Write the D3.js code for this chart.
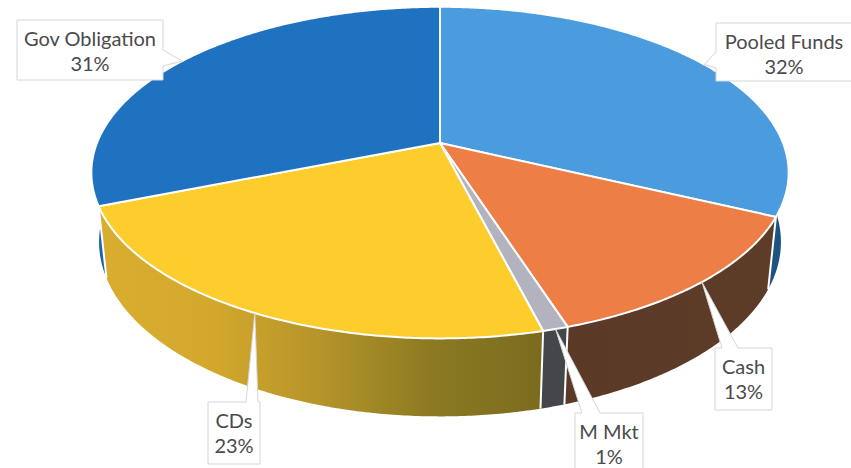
<!DOCTYPE html>
<html>
<head>
<meta charset="utf-8">
<script src="https://cdn.jsdelivr.net/npm/d3@7"></script>
<style>
  body { margin: 0; background: #fff; }
  svg { display: block; }
</style>
</head>
<body>
<svg id="chart" width="851" height="468"></svg>
<script>
// Portfolio allocation, clockwise from 12 o'clock
const categories = ["Pooled Funds", "Cash", "M Mkt", "CDs", "Gov Obligation"];
const shares = [32, 13, 1, 23, 31];
const shareLabels = ["32%", "13%", "1%", "23%", "31%"];

// Fill colours: top faces and shaded outer walls (stops run from slice start to slice end)
const topColors = ["#4b9cdf", "#ed7e46", "#b3b3bf", "#fccd2c", "#1f72c0"];
const sideStops = [
  ["#1d5d8c", "#1b5482"],
  ["#5d3c28", "#5a3a27"],
  ["#44464c", "#44464c"],
  ["#7b6b1f", "#8b7a22", "#b59429", "#d4a82d", "#d9ad2f"],
  ["#1b66ae", "#1b66ae"]
];

// Callout boxes: box rectangle, side the pointer leaves from, and the pointer base span
const callouts = [
  { x: 716, y: 23,  w: 136, h: 58, side: "left",  b0: 52,  b1: 68 },
  { x: 715, y: 348, w: 57,  h: 62, side: "top",   b0: 722, b1: 738 },
  { x: 575, y: 413, w: 68,  h: 60, side: "top",   b0: 582, b1: 600 },
  { x: 208, y: 402, w: 52,  h: 62, side: "top",   b0: 246, b1: 258 },
  { x: 17,  y: 20,  w: 146, h: 60, side: "right", b0: 50,  b1: 66 }
];

const svg = d3.select("#chart");
const defs = svg.append("defs");

// Perspective view of a tilted disc of unit radius
const cx = 440, cy = 143;
const tilt = 27.9 * Math.PI / 180;
const camDist = 4.95, focal = 1698, thickness = 0.231;

function project(theta, r, yw) {
  const X = r * Math.sin(theta), Z = r * Math.cos(theta);
  const v = Z * Math.sin(tilt) + yw * Math.cos(tilt);
  const d = Z * Math.cos(tilt) - yw * Math.sin(tilt);
  const s = focal / (camDist + d);
  return [cx + X * s, cy - v * s];
}

const pie = d3.pie().sort(null).value(d => d.value);
const arcs = pie(categories.map((c, i) => ({ name: c, value: shares[i], i })));
const line = d3.line();

function rimPoints(a, yw) {
  const n = Math.max(4, Math.ceil((a.endAngle - a.startAngle) / (Math.PI / 360)));
  return d3.range(n + 1).map(k => project(a.startAngle + (a.endAngle - a.startAngle) * k / n, 1, yw));
}

// Outer walls, one shape per slice, shaded with a horizontal gradient; far walls first
const walls = arcs.map(a => {
  const top = rimPoints(a, 0), bottom = rimPoints(a, -thickness).reverse();
  const id = "wall" + a.data.i;
  const stops = sideStops[a.data.i];
  const xs = project(a.startAngle, 1, 0)[0], xe = project(a.endAngle, 1, 0)[0];
  const g = defs.append("linearGradient").attr("id", id)
    .attr("gradientUnits", "userSpaceOnUse")
    .attr("x1", xs).attr("y1", 0).attr("x2", xe).attr("y2", 0);
  stops.forEach((c, k) => g.append("stop").attr("offset", k / (stops.length - 1)).attr("stop-color", c));
  return { d: line(top.concat(bottom)) + "Z", fill: `url(#${id})`,
           depth: Math.cos((a.startAngle + a.endAngle) / 2) };
}).sort((p, q) => q.depth - p.depth);

svg.append("g").selectAll("path").data(walls).join("path")
  .attr("d", w => w.d)
  .attr("fill", w => w.fill);

// White seams on the wall where slices meet (front-facing only)
const seams = arcs.map(a => a.startAngle).filter(t => Math.cos(t) < 0.3);
svg.append("g").selectAll("line").data(seams).join("line")
  .attr("x1", t => project(t, 1, 0)[0]).attr("y1", t => project(t, 1, 0)[1])
  .attr("x2", t => project(t, 1, -thickness)[0]).attr("y2", t => project(t, 1, -thickness)[1])
  .attr("stroke", "#fff").attr("stroke-width", 2);

// Top faces
svg.append("g").selectAll("path").data(arcs).join("path")
  .attr("d", a => line([project(0, 0, 0)].concat(rimPoints(a, 0))) + "Z")
  .attr("fill", a => topColors[a.data.i])
  .attr("stroke", "#fff")
  .attr("stroke-width", 2)
  .attr("stroke-linejoin", "round");

// Data callouts
function calloutPath(c, tip) {
  const x0 = c.x, y0 = c.y, x1 = c.x + c.w, y1 = c.y + c.h;
  const p = d3.path();
  if (c.side === "top") {
    p.moveTo(x0, y0); p.lineTo(c.b0, y0); p.lineTo(tip[0], tip[1]); p.lineTo(c.b1, y0);
    p.lineTo(x1, y0); p.lineTo(x1, y1); p.lineTo(x0, y1);
  } else if (c.side === "left") {
    p.moveTo(x0, y0); p.lineTo(x1, y0); p.lineTo(x1, y1); p.lineTo(x0, y1);
    p.lineTo(x0, c.b1); p.lineTo(tip[0], tip[1]); p.lineTo(x0, c.b0);
  } else {
    p.moveTo(x0, y0); p.lineTo(x1, y0); p.lineTo(x1, c.b0); p.lineTo(tip[0], tip[1]);
    p.lineTo(x1, c.b1); p.lineTo(x1, y1); p.lineTo(x0, y1);
  }
  p.closePath();
  return p.toString();
}

const labelG = svg.append("g");
arcs.forEach(a => {
  const c = callouts[a.data.i];
  const mid = (a.startAngle + a.endAngle) / 2;
  const tip = project(mid, 1, 0);
  labelG.append("path")
    .attr("d", calloutPath(c, tip))
    .attr("fill", "#fff")
    .attr("stroke", "#d6d6d6")
    .attr("stroke-width", 1);
  const t = labelG.append("text")
    .attr("text-anchor", "middle")
    .attr("font-family", "Lato, 'Open Sans', sans-serif")
    .attr("font-size", 20)
    .attr("fill", "#4a4a4a");
  t.append("tspan").attr("x", c.x + c.w / 2).attr("y", c.y + 26).text(a.data.name);
  t.append("tspan").attr("x", c.x + c.w / 2).attr("y", c.y + 51).text(shareLabels[a.data.i]);
});
</script>
</body>
</html>
